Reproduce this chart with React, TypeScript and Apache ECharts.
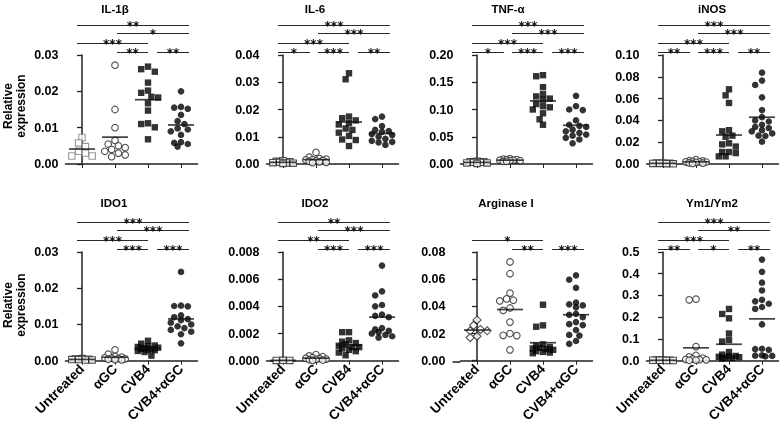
import React, { useEffect, useRef } from "react";
import * as echarts from "echarts";

// ---------- data ----------
const groups = ["Untreated", "αGC", "CVB4", "CVB4+αGC"];

const panelTitles = ["IL-1β", "IL-6", "TNF-α", "iNOS", "IDO1", "IDO2", "Arginase I", "Ym1/Ym2"];
const yMaxes = [0.03, 0.04, 0.2, 0.1, 0.03, 0.008, 0.08, 0.5];
const yIntervals = [0.01, 0.01, 0.05, 0.02, 0.01, 0.002, 0.02, 0.1];
const yDecimals = [2, 2, 2, 2, 2, 3, 2, 1];

const il1b_untreated = [0.0073, 0.0058, 0.0048, 0.0035, 0.003, 0.0022, 0.0022];
const il1b_agc = [0.0272, 0.015, 0.01, 0.0065, 0.0055, 0.005, 0.0045, 0.004, 0.0035, 0.003, 0.0025, 0.002];
const il1b_cvb4 = [0.0268, 0.0261, 0.0254, 0.0224, 0.0202, 0.0196, 0.0185, 0.0183, 0.0167, 0.0147, 0.0112, 0.011, 0.0101, 0.0068];
const il1b_combo = [0.02, 0.0157, 0.0155, 0.0152, 0.0135, 0.0118, 0.011, 0.0098, 0.0095, 0.009, 0.008, 0.006, 0.0058, 0.0055, 0.0048];

const il6_untreated = [0.0012, 0.001, 0.0008, 0.0006, 0.0005, 0.0004, 0.0003, 0.0002];
const il6_agc = [0.0043, 0.0025, 0.002, 0.0018, 0.0016, 0.0015, 0.0013, 0.0012, 0.001, 0.0008, 0.0006, 0.0005];
const il6_cvb4 = [0.0333, 0.0311, 0.0174, 0.0168, 0.016, 0.015, 0.0145, 0.013, 0.0125, 0.0115, 0.0103, 0.009, 0.0088, 0.0066];
const il6_combo = [0.0174, 0.0165, 0.0139, 0.0125, 0.0121, 0.0118, 0.011, 0.0106, 0.01, 0.0092, 0.0085, 0.0081, 0.0079, 0.007];

const tnf_untreated = [0.005, 0.004, 0.004, 0.003, 0.003, 0.002, 0.002, 0.001];
const tnf_agc = [0.01, 0.009, 0.008, 0.008, 0.007, 0.007, 0.006, 0.006, 0.005, 0.005];
const tnf_cvb4 = [0.163, 0.161, 0.141, 0.128, 0.124, 0.12, 0.118, 0.11, 0.106, 0.104, 0.1, 0.093, 0.082, 0.072];
const tnf_combo = [0.125, 0.106, 0.1, 0.099, 0.08, 0.072, 0.07, 0.068, 0.063, 0.06, 0.057, 0.054, 0.052, 0.048, 0.045, 0.038];

const inos_untreated = [0.001, 0.001, 0.0008, 0.0005, 0.0005, 0.0003, 0.0002];
const inos_agc = [0.004, 0.003, 0.0028, 0.0025, 0.002, 0.002, 0.0018, 0.0015, 0.001, 0.0008, 0.0005];
const inos_cvb4 = [0.0685, 0.063, 0.056, 0.031, 0.03, 0.026, 0.025, 0.019, 0.018, 0.016, 0.011, 0.011, 0.01, 0.007, 0.007];
const inos_combo = [0.0838, 0.0765, 0.0725, 0.0612, 0.0495, 0.043, 0.04, 0.039, 0.036, 0.034, 0.033, 0.031, 0.03, 0.028, 0.026, 0.0257, 0.0205];

const ido1_untreated = [0.0006, 0.0005, 0.0004, 0.0003, 0.0003, 0.0002, 0.0002];
const ido1_agc = [0.003, 0.0018, 0.0012, 0.001, 0.0008, 0.0007, 0.0006, 0.0005, 0.0004, 0.0003, 0.0002];
const ido1_cvb4 = [0.0055, 0.0047, 0.0042, 0.004, 0.0038, 0.0036, 0.0035, 0.0033, 0.0032, 0.003, 0.0029, 0.0027, 0.0024, 0.0014];
const ido1_combo = [0.0245, 0.0152, 0.0151, 0.015, 0.0125, 0.012, 0.0115, 0.0112, 0.0105, 0.01, 0.0095, 0.009, 0.0085, 0.008, 0.0073, 0.0048];

const ido2_untreated = [0.00003, 0.00002, 0.00002];
const ido2_agc = [0.00045, 0.00035, 0.0003, 0.00022, 0.00018, 0.00015, 0.00012, 0.0001, 0.00008, 0.00005, 0.00003];
const ido2_cvb4 = [0.0021, 0.0021, 0.0015, 0.0014, 0.0013, 0.0012, 0.0011, 0.001, 0.001, 0.0009, 0.0008, 0.0007, 0.0006, 0.0004];
const ido2_combo = [0.007, 0.0051, 0.0048, 0.0041, 0.004, 0.0034, 0.0033, 0.0032, 0.0024, 0.0023, 0.0022, 0.0021, 0.002, 0.0019, 0.0018, 0.0017];

const arg_untreated = [0.03, 0.026, 0.023, 0.022, 0.022, 0.018, 0.017];
const arg_agc = [0.0727, 0.064, 0.0497, 0.0455, 0.0445, 0.044, 0.0388, 0.037, 0.0284, 0.02, 0.0187, 0.0185, 0.008];
const arg_cvb4 = [0.0412, 0.026, 0.025, 0.012, 0.011, 0.01, 0.0095, 0.009, 0.0085, 0.008, 0.007, 0.0065, 0.006, 0.0055];
const arg_combo = [0.0628, 0.0596, 0.0536, 0.0427, 0.0415, 0.0407, 0.0393, 0.0345, 0.0338, 0.032, 0.0284, 0.0269, 0.0262, 0.0226, 0.019, 0.0185, 0.0145, 0.0124];

const ym_untreated = [0.003, 0.003, 0.002, 0.002, 0.002, 0.001, 0.001];
const ym_agc = [0.283, 0.28, 0.065, 0.025, 0.018, 0.012, 0.008, 0.006, 0.005, 0.004, 0.003, 0.002];
const ym_cvb4 = [0.238, 0.215, 0.195, 0.125, 0.095, 0.088, 0.04, 0.028, 0.022, 0.02, 0.018, 0.016, 0.014, 0.012, 0.01];
const ym_combo = [0.465, 0.409, 0.359, 0.323, 0.28, 0.273, 0.262, 0.247, 0.238, 0.167, 0.055, 0.053, 0.05, 0.025, 0.023, 0.022, 0.02];

// significance comparisons: [fromGroup, toGroup, level, stars]
type Sig = [number, number, number, string];
const il1b_sig: Sig[] = [[1, 2, 0, "**"], [2, 3, 0, "**"], [0, 2, 1, "***"], [1, 3, 2, "*"], [0, 3, 3, "**"]];
const il6_sig: Sig[] = [[0, 1, 0, "*"], [1, 2, 0, "***"], [2, 3, 0, "**"], [0, 2, 1, "***"], [1, 3, 2, "***"], [0, 3, 3, "***"]];
const tnf_sig: Sig[] = [[0, 1, 0, "*"], [1, 2, 0, "***"], [2, 3, 0, "***"], [0, 2, 1, "***"], [1, 3, 2, "***"], [0, 3, 3, "***"]];
const inos_sig: Sig[] = [[0, 1, 0, "**"], [1, 2, 0, "***"], [2, 3, 0, "**"], [0, 2, 1, "***"], [1, 3, 2, "***"], [0, 3, 3, "***"]];
const ido1_sig: Sig[] = [[1, 2, 0, "***"], [2, 3, 0, "***"], [0, 2, 1, "***"], [1, 3, 2, "***"], [0, 3, 3, "***"]];
const ido2_sig: Sig[] = [[1, 2, 0, "***"], [2, 3, 0, "***"], [0, 2, 1, "**"], [1, 3, 2, "***"], [0, 3, 3, "**"]];
const arg_sig: Sig[] = [[1, 2, 0, "**"], [2, 3, 0, "***"], [0, 2, 1, "*"]];
const ym_sig: Sig[] = [[0, 1, 0, "**"], [1, 2, 0, "*"], [2, 3, 0, "**"], [0, 2, 1, "***"], [1, 3, 2, "**"], [0, 3, 3, "***"]];

const panelValues = [
  [il1b_untreated, il1b_agc, il1b_cvb4, il1b_combo],
  [il6_untreated, il6_agc, il6_cvb4, il6_combo],
  [tnf_untreated, tnf_agc, tnf_cvb4, tnf_combo],
  [inos_untreated, inos_agc, inos_cvb4, inos_combo],
  [ido1_untreated, ido1_agc, ido1_cvb4, ido1_combo],
  [ido2_untreated, ido2_agc, ido2_cvb4, ido2_combo],
  [arg_untreated, arg_agc, arg_cvb4, arg_combo],
  [ym_untreated, ym_agc, ym_cvb4, ym_combo],
];
const panelSigs = [il1b_sig, il6_sig, tnf_sig, inos_sig, ido1_sig, ido2_sig, arg_sig, ym_sig];
const untreatedSymbols = ["rect", "rect", "rect", "rect", "rect", "rect", "diamond", "rect"];

// ---------- layout ----------
const CAT_W = 33;
const GRID_W = CAT_W * 4;
const gridLefts = [65.5, 266.5, 460.5, 646.5];
const rowTops = [55, 252];
const rowHeights = [109, 110];
const titleXs = [115, 315, 508, 712, 114, 315, 506, 712];
const titleYs = [9, 203];
const yAxisOffsets = [0, 0, 0, 0, 0, 0, 8, 0];
const levelGaps = [3.5, 12.5, 22, 30.5];
const startOff = [-5, 2, 9, 9];
const endOff = [0, -6, 0, 8];
const FONT = '"Liberation Sans", Arial, sans-serif';
const AXIS_COLOR = "#222";
const SIG_COLOR = "#2a2a2a";

function swarm(values: number[], yMax: number, hPx: number, cat: number) {
  const size = 6.3;
  const dx = 6.8;
  const ks = [0, -0.5, 0.5, -1, 1, -1.5, 1.5];
  const order = values.map((_, i) => i).sort((a, b) => values[b] - values[a]);
  const placed: { x: number; y: number }[] = [];
  const out: [number, number][] = new Array(values.length);
  for (const i of order) {
    const py = (values[i] / yMax) * hPx;
    let best = 0;
    let bestD = -1;
    for (const k of ks) {
      const px = k * dx;
      let minD = Infinity;
      for (const q of placed) {
        const d = Math.hypot(q.x - px, q.y - py);
        if (d < minD) minD = d;
      }
      if (minD >= size) {
        best = px;
        break;
      }
      if (minD > bestD) {
        bestD = minD;
        best = px;
      }
    }
    placed.push({ x: best, y: py });
    out[i] = [cat + best / CAT_W, values[i]];
  }
  return out;
}

function buildOption() {
  const grids: any[] = [];
  const xAxes: any[] = [];
  const yAxes: any[] = [];
  const series: any[] = [];
  const graphics: any[] = [];

  for (let p = 0; p < 8; p++) {
    const row = p >> 2;
    const col = p % 4;
    const left = gridLefts[col];
    const top = rowTops[row];
    const h = rowHeights[row];
    const yMax = yMaxes[p];
    grids.push({ left, top, width: GRID_W, height: h });

    xAxes.push({
      type: "category",
      gridIndex: p,
      data: groups,
      boundaryGap: true,
      axisLine: { show: true, lineStyle: { color: AXIS_COLOR, width: 1.5 } },
      axisTick: { show: true, alignWithLabel: true, length: 4, lineStyle: { color: AXIS_COLOR, width: 1 } },
      axisLabel: {
        show: row === 1,
        rotate: 45,
        interval: 0,
        margin: 6,
        fontFamily: FONT,
        fontWeight: "bold",
        fontSize: 13.5,
        color: "#000",
      },
      splitLine: { show: false },
    });
    xAxes.push({ type: "value", gridIndex: p, min: -0.5, max: 3.5, show: false });

    yAxes.push({
      type: "value",
      gridIndex: p,
      min: 0,
      max: yMax,
      interval: yIntervals[p],
      offset: yAxisOffsets[p],
      axisLine: { show: true, lineStyle: { color: AXIS_COLOR, width: 1.5 } },
      axisTick: { show: true, length: 5, lineStyle: { color: AXIS_COLOR, width: 1.3 } },
      axisLabel: {
        margin: 7,
        fontFamily: FONT,
        fontWeight: "bold",
        fontSize: 12.5,
        color: "#000",
        formatter: (v: number) => v.toFixed(yDecimals[p]),
      },
      splitLine: { show: false },
    });

    const vals = panelValues[p];
    for (let g = 0; g < 4; g++) {
      const open = g < 2;
      const symbol = g === 0 ? untreatedSymbols[p] : g === 1 ? "circle" : g === 2 ? "rect" : "circle";
      const border = p === 0 && g === 0 ? "#808080" : "#222";
      series.push({
        type: "scatter",
        name: groups[g],
        xAxisIndex: p * 2 + 1,
        yAxisIndex: p,
        clip: false,
        symbol,
        symbolSize: symbol === "diamond" ? 8 : g === 3 || g === 1 ? 6.6 : 6.4,
        itemStyle: open
          ? { color: "#fff", borderColor: border, borderWidth: 1.1 }
          : { color: "#000" },
        data: swarm(vals[g], yMax, h, g),
        z: 3,
        silent: true,
      });
    }
    // group means
    series.push({
      type: "scatter",
      xAxisIndex: p * 2 + 1,
      yAxisIndex: p,
      clip: false,
      symbol: "rect",
      symbolSize: [26, 1.7],
      itemStyle: { color: "#111" },
      data: vals.map((arr, g) => [g, arr.reduce((a, b) => a + b, 0) / arr.length]),
      z: 4,
      silent: true,
    });
    // significance brackets
    const sigs = panelSigs[p];
    series.push({
      type: "custom",
      xAxisIndex: p * 2,
      yAxisIndex: p,
      clip: false,
      silent: true,
      itemStyle: { color: SIG_COLOR },
      encode: { x: 0, y: 1 },
      data: sigs.map((s) => [s[0], 0, s[1], s[2]]),
      renderItem: (params: any, api: any) => {
        const s = sigs[params.dataIndex];
        const from = s[0];
        const to = s[1];
        const x1 = api.coord([from, 0])[0] + startOff[from];
        const x2 = api.coord([to, 0])[0] + endOff[to];
        const topPx = api.coord([0, yMax])[1];
        const y = Math.round(topPx - levelGaps[s[2]]) + 0.5;
        return {
          type: "group",
          children: [
            { type: "line", shape: { x1, y1: y, x2, y2: y }, style: { stroke: SIG_COLOR, lineWidth: 1 } },
            {
              type: "text",
              x: (x1 + x2) / 2,
              y: y,
              style: {
                text: s[3],
                align: "center",
                verticalAlign: "middle",
                fontFamily: '"DejaVu Sans", sans-serif',
                fontWeight: "bold",
                fontSize: 12,
                fill: "#111",
              },
            },
          ],
        };
      },
    });

    graphics.push({
      type: "text",
      x: titleXs[p],
      y: titleYs[row],
      style: {
        text: panelTitles[p],
        align: "center",
        verticalAlign: "middle",
        fontFamily: FONT,
        fontWeight: "bold",
        fontSize: 11.5,
        fill: "#000",
      },
    });
    if (yAxisOffsets[p] > 0) {
      const yb = top + h;
      graphics.push({
        type: "line",
        shape: { x1: left - yAxisOffsets[p], y1: yb, x2: left, y2: yb },
        style: { stroke: AXIS_COLOR, lineWidth: 1.5 },
      });
    }
  }

  // y-axis names
  for (let row = 0; row < 2; row++) {
    graphics.push({
      type: "text",
      x: 14.5,
      y: row === 0 ? 106 : 305,
      rotation: Math.PI / 2,
      style: {
        text: "Relative\nexpression",
        align: "center",
        verticalAlign: "middle",
        lineHeight: 13,
        fontFamily: FONT,
        fontWeight: "bold",
        fontSize: 12,
        fill: "#000",
      },
    });
  }

  return {
    animation: false,
    backgroundColor: "#fff",
    grid: grids,
    xAxis: xAxes,
    yAxis: yAxes,
    series,
    graphic: graphics,
  };
}

export default function App() {
  const ref = useRef<HTMLDivElement>(null);
  useEffect(() => {
    document.body.style.margin = "0";
    const chart = echarts.init(ref.current as HTMLDivElement, null, { renderer: "svg" });
    chart.setOption(buildOption() as any);
    return () => chart.dispose();
  }, []);
  return <div ref={ref} style={{ width: 781, height: 425, filter: "grayscale(1)" }} />;
}
